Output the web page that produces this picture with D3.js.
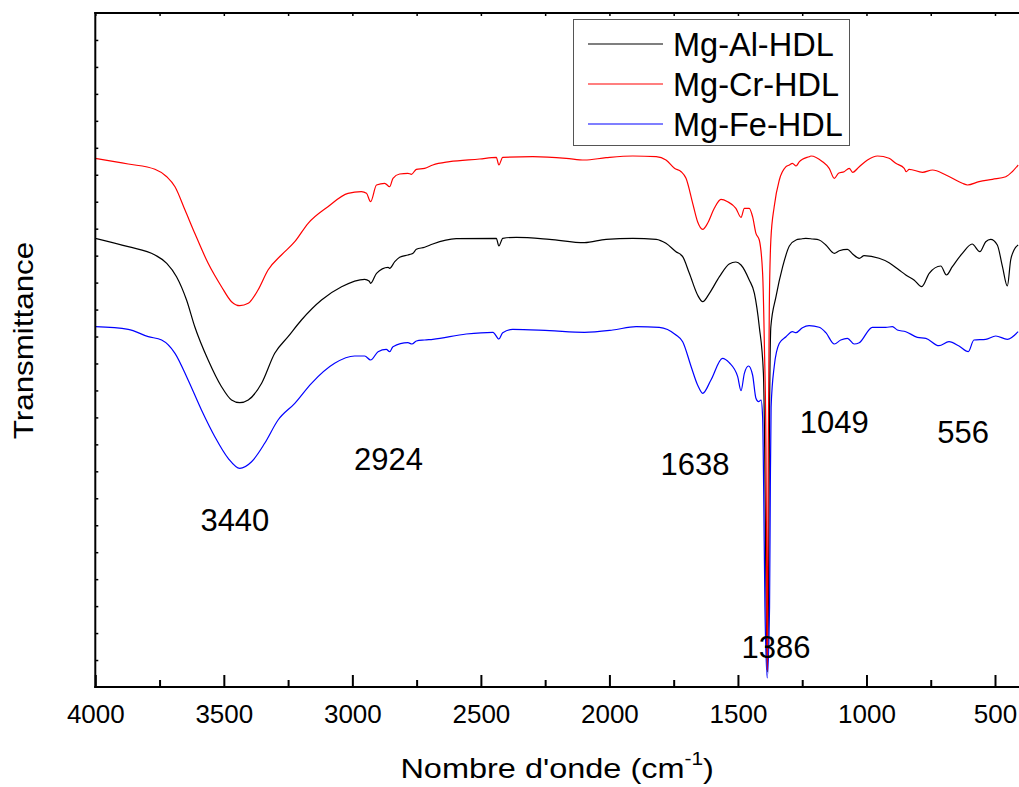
<!DOCTYPE html>
<html>
<head>
<meta charset="utf-8">
<script src="https://cdn.jsdelivr.net/npm/d3@7"></script>
<style>
  html, body { margin: 0; padding: 0; background: #fff; }
  svg { display: block; font-family: "Liberation Sans", Arial, sans-serif; }
</style>
</head>
<body>
<svg id="chart" width="1019" height="787"></svg>
<script>
// ---------- DATA (wavenumber cm-1, transmittance a.u.) ----------
const seriesNames = ["Mg-Al-HDL", "Mg-Cr-HDL", "Mg-Fe-HDL"];
const seriesColors = ["#000000", "#ff0000", "#0000ff"];

const mgAl = [[4000,448.7],[3872,440.3],[3768,432],[3722,423.7],[3684,410.3],[3645,387],[3613,360.3],[3561,327],[3509,300.3],[3470,287],[3438,284.3],[3405,287],[3353,303.7],[3302,333.7],[3250,350.3],[3198,367],[3120,387],[3042,400.3],[2952,407.7],[2935,406],[2929,403.7],[2906,413.7],[2861,419.7],[2855,418.7],[2835,425.3],[2816,429.7],[2784,432],[2770,433],[2764,433.7],[2751,437.7],[2719,439.7],[2687,443],[2596,448.3],[2440,448.7],[2430,441],[2415,448.7],[2362,449.7],[2233,447.7],[2097,444.3],[2013,447.7],[1909,448.7],[1818,447.7],[1780,443.7],[1741,435.3],[1715,430.3],[1689,413.7],[1657,392],[1637,385.3],[1611,393.7],[1572,410.3],[1534,423],[1508,425],[1488,422],[1456,407],[1436,393.7],[1417,360.3],[1401,314],[1396,240],[1391,100],[1386,15],[1381,100],[1378,240],[1372,360.3],[1352,390.3],[1326,420.3],[1300,441],[1274,447],[1255,448],[1236,448.7],[1210,448],[1184,447],[1158,442],[1125,433.7],[1106,436.3],[1074,437.7],[1054,433],[1028,428.7],[1009,431.3],[951,428.7],[912,424.3],[873,417],[847,412],[815,407],[785,400.3],[756,413.7],[711,421],[689,412],[666,420.3],[627,433.7],[589,443],[559,435.3],[536,445.3],[517,447.7],[491,442],[471,420.3],[452,401],[439,427],[426,437],[410,442]];

const mgCr = [[4000,528.7],[3872,523],[3768,517.7],[3722,510.3],[3690,500.3],[3651,477],[3613,453.7],[3561,423.7],[3509,400.3],[3470,385.3],[3438,381.3],[3405,383.7],[3367,397],[3328,417],[3276,432],[3224,445.3],[3172,463.7],[3095,480.3],[3017,493.7],[2965,495.3],[2945,493.7],[2929,485.3],[2906,502],[2874,503.7],[2855,500.3],[2842,508.7],[2816,513],[2784,513.7],[2770,512.7],[2751,517.7],[2719,518.7],[2687,522],[2622,525.3],[2505,528],[2440,529.7],[2430,522],[2415,529.7],[2298,530.3],[2168,528.7],[2097,527],[2013,529.3],[1909,531],[1818,530.3],[1780,527],[1747,518.7],[1721,515.3],[1702,508.7],[1676,483.7],[1657,465.3],[1637,457.7],[1618,463.7],[1592,478.7],[1566,487.7],[1540,485.3],[1508,478.7],[1488,469.7],[1475,478.7],[1456,478.7],[1443,470.3],[1430,453.7],[1417,447],[1404,413.7],[1397,340],[1391,240],[1388,100],[1386,17],[1384,100],[1382,240],[1378,380],[1372,447],[1359,480.3],[1339,507],[1313,520.3],[1300,522],[1288,523.7],[1274,521],[1261,525.3],[1249,527.7],[1223,530.3],[1216,531],[1171,525.3],[1145,518.7],[1125,508.7],[1109,513.7],[1087,515.3],[1067,518.7],[1054,514.7],[1028,520.3],[996,527],[957,531],[912,528.7],[886,523.7],[853,518.7],[845,515.3],[834,517.7],[782,514.7],[743,517],[691,512],[627,503.7],[607,502],[562,505.3],[510,507.7],[458,510.3],[433,515.3],[410,522]];

const mgFe = [[4000,360.3],[3872,357.7],[3794,350.3],[3742,347],[3690,333.7],[3639,307],[3587,277],[3535,250.3],[3483,228.7],[3438,218.7],[3392,225.3],[3341,243.7],[3289,267],[3224,283.7],[3159,303.7],[3069,323.7],[2991,331],[2952,331],[2929,327],[2900,335.3],[2868,337.7],[2855,335.3],[2842,340.3],[2784,344.3],[2768,343],[2751,346],[2719,347],[2687,347.7],[2557,353],[2453,354.7],[2430,348],[2415,354.3],[2376,357.7],[2233,356.3],[2097,354.7],[1987,357],[1896,360.3],[1806,359.7],[1741,352],[1715,345.3],[1682,320.3],[1657,302],[1637,293.7],[1605,307],[1560,328.7],[1534,324.3],[1501,310.3],[1488,296.3],[1475,313.7],[1459,321],[1443,312],[1430,288.7],[1420,285.3],[1410,287],[1404,270],[1400,200],[1395,80],[1386,9],[1377,80],[1374,200],[1371,280],[1359,320.3],[1339,343.7],[1313,350.3],[1288,355.3],[1274,354.3],[1249,359.3],[1223,361.3],[1184,359.7],[1158,354.3],[1125,343],[1100,347],[1074,348.7],[1048,343],[1028,344.3],[977,359.7],[925,359.7],[899,360.3],[880,357],[847,355.3],[802,349.7],[769,348.7],[718,341.3],[679,345.3],[640,341],[604,335.3],[582,347],[536,347.7],[497,351],[452,347.7],[410,355.3]];

const xMajorTicks = [4000, 3500, 3000, 2500, 2000, 1500, 1000, 500];
const xMinorTicks = [3750, 3250, 2750, 2250, 1750, 1250, 750];

// peak annotations: label, wavenumber position, transmittance position
const peakLabels = ["3440", "2924", "1638", "1386", "1049", "556"];
const peakLabelX = [3457, 2859, 1667, 1352, 1125, 624];
const peakLabelY = [156, 217, 212, 29, 254, 244];

// ---------- CHART ----------
(function () {
const svg = d3.select("#chart");
const W = 1019;
const pLeft = 95.3, pBottom = 687, pTop = 13, pRight = W;

const x = d3.scaleLinear().domain([4000, 500]).range([pLeft, 995]);
const y = d3.scaleLinear().domain([0, 674]).range([pBottom, pTop]);

svg.append("defs").append("clipPath").attr("id", "clip")
  .append("rect").attr("x", pLeft).attr("y", pTop).attr("width", pRight - pLeft).attr("height", pBottom - pTop);

// lines
const line = d3.line().x(d => x(d[0])).y(d => y(d[1])).curve(d3.curveMonotoneX);
const allSeries = [mgAl, mgCr, mgFe];
svg.append("g").attr("clip-path", "url(#clip)")
  .selectAll("path").data(allSeries).join("path")
  .attr("d", d => line(d))
  .attr("fill", "none")
  .attr("stroke", (d, i) => seriesColors[i])
  .attr("stroke-width", 1.2)
  .attr("stroke-linejoin", "round");

// bottom axis major
const gB = svg.append("g").attr("transform", `translate(0,${pBottom})`)
  .call(d3.axisBottom(x).tickValues(xMajorTicks).tickSize(-12).tickSizeOuter(0).tickFormat(d3.format("d")));
gB.select(".domain").remove();
gB.selectAll(".tick line").attr("stroke", "#000").attr("stroke-width", 2);
gB.selectAll(".tick text").attr("y", 36).attr("dy", 0)
  .attr("font-size", 26).attr("fill", "#000")
  .attr("font-family", "'Liberation Sans', Arial, sans-serif");

// bottom axis minor
const gBm = svg.append("g").attr("transform", `translate(0,${pBottom})`)
  .call(d3.axisBottom(x).tickValues(xMinorTicks).tickSize(-7).tickSizeOuter(0).tickFormat(""));
gBm.select(".domain").remove();
gBm.selectAll(".tick line").attr("stroke", "#000").attr("stroke-width", 2);

// top axis
const gT = svg.append("g").attr("transform", `translate(0,${pTop})`)
  .call(d3.axisTop(x).tickValues(xMajorTicks.concat(xMinorTicks)).tickSize(-3).tickSizeOuter(0).tickFormat(""));
gT.select(".domain").remove();
gT.selectAll(".tick line").attr("stroke", "#000").attr("stroke-width", 1.5);

// left axis ticks
const yTicks = d3.range(1, 25).map(i => i * 674 / 25);
const gL = svg.append("g").attr("transform", `translate(${pLeft},0)`)
  .call(d3.axisLeft(y).tickValues(yTicks).tickSize(-3).tickSizeOuter(0).tickFormat(""));
gL.select(".domain").remove();
gL.selectAll(".tick line").attr("stroke", "#000").attr("stroke-width", 1.5);

// frame lines
svg.append("line").attr("x1", pLeft).attr("x2", pLeft).attr("y1", pTop - 1).attr("y2", pBottom + 1)
  .attr("stroke", "#000").attr("stroke-width", 2);
svg.append("line").attr("x1", pLeft - 1).attr("x2", pRight).attr("y1", pBottom).attr("y2", pBottom)
  .attr("stroke", "#000").attr("stroke-width", 2);
svg.append("line").attr("x1", pLeft - 1).attr("x2", pRight).attr("y1", pTop).attr("y2", pTop)
  .attr("stroke", "#000").attr("stroke-width", 2);

// peak labels
svg.append("g").selectAll("text").data(peakLabels).join("text")
  .attr("x", (d, i) => x(peakLabelX[i]))
  .attr("y", (d, i) => y(peakLabelY[i]))
  .attr("text-anchor", "middle")
  .attr("font-size", 31)
  .attr("fill", "#000")
  .text(d => d);

// axis titles
const xt = svg.append("text")
  .attr("transform", `translate(${(pLeft + pRight) / 2},778) scale(1.16,1)`)
  .attr("text-anchor", "middle").attr("font-size", 28).attr("fill", "#000");
xt.append("tspan").text("Nombre d'onde (cm");
xt.append("tspan").attr("font-size", 18).attr("dy", -13).text("-1");
xt.append("tspan").attr("dy", 13).text(")");

svg.append("text")
  .attr("transform", "translate(33,340.5) rotate(-90) scale(1.12,1)")
  .attr("text-anchor", "middle").attr("font-size", 28).attr("fill", "#000")
  .text("Transmittance");

// legend
const lg = svg.append("g");
lg.append("rect").attr("x", 573.5).attr("y", 19.5).attr("width", 276).attr("height", 126)
  .attr("fill", "#fff").attr("stroke", "#555").attr("stroke-width", 1);
const rows = lg.selectAll("g.row").data(seriesNames).join("g").attr("class", "row")
  .attr("transform", (d, i) => `translate(0,${44 + i * 40})`);
rows.append("line").attr("x1", 588).attr("x2", 663).attr("y1", 0).attr("y2", 0)
  .attr("stroke", (d, i) => seriesColors[i]).attr("stroke-width", 1.2);
rows.append("text").attr("x", 673).attr("y", 12).attr("font-size", 32.5).attr("fill", "#000")
  .text(d => d);
})();
</script>
</body>
</html>
